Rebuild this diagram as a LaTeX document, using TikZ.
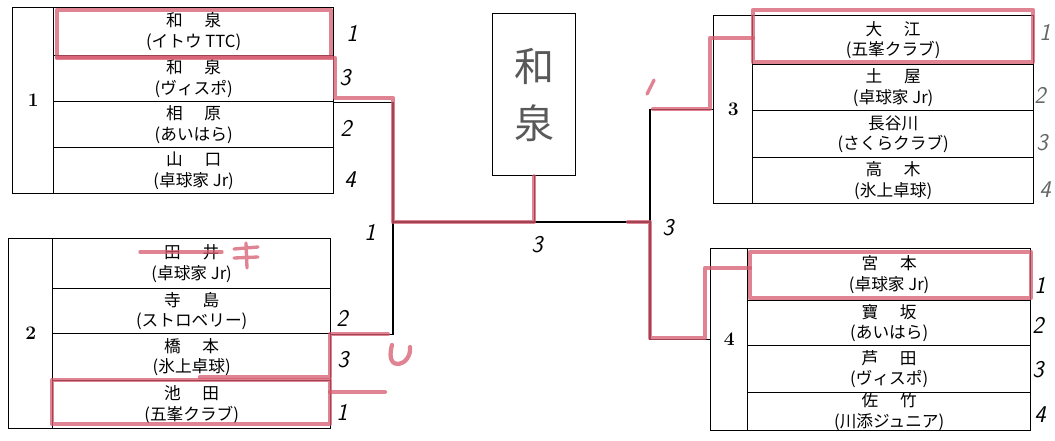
\documentclass[tikz,border=0pt]{standalone}
\usepackage{fontspec}
\newfontfamily\jp{Noto Sans CJK JP}
\usetikzlibrary{positioning}
\definecolor{hlred}{RGB}{214,90,110}
\newcommand{\pname}[2]{#1\hspace{1.3em}#2}
\tikzset{
  grp/.style={draw, line width=1pt, inner sep=0pt, anchor=north west, font=\bfseries\Large},
  entry/.style={draw, line width=1pt, inner sep=0pt, anchor=north west, align=center,
    font=\jp\fontsize{12.5}{15.5}\selectfont},
  link/.style={line width=1pt},
  hl/.style={draw=hlred, line width=3.2pt, opacity=0.75, line cap=round, line join=round},
  hand/.style={font=\sffamily\slshape\fontsize{18}{18}\selectfont, inner sep=0pt}
}
\begin{document}
\begin{tikzpicture}[x=0.75pt, y=-0.75pt]
    \useasboundingbox (0,0) rectangle (1055,440);

    % Group 1
    \node[grp, minimum width=30.75pt, minimum height=139.5pt] (g1) at (12,7) {1};
    \foreach \r/\ya/\yb/\who/\club in {1/7/55/{\pname{和}{泉}}/{(イトウ TTC)}, 2/55/101/{\pname{和}{泉}}/{(ヴィスポ)},
        3/101/147/{\pname{相}{原}}/{(あいはら)}, 4/147/193/{\pname{山}{口}}/{(卓球家 Jr)}}
        \node[entry, minimum width=210pt, minimum height={(\yb-\ya)*0.75pt}] (b1r\r) at (53,\ya) {\who\\\club};

    % Group 2
    \node[grp, minimum width=33pt, minimum height=142.5pt] (g2) at (8,238) {2};
    \foreach \r/\ya/\yb/\who/\club in {1/238/288/{\pname{田}{井}}/{(卓球家 Jr)}, 2/288/333/{\pname{寺}{島}}/{(ストロベリー)},
        3/333/380/{\pname{橋}{本}}/{(氷上卓球)}, 4/380/428/{\pname{池}{田}}/{(五峯クラブ)}}
        \node[entry, minimum width=208.5pt, minimum height={(\yb-\ya)*0.75pt}] (b2r\r) at (52,\ya) {\who\\\club};

    % Group 3
    \node[grp, minimum width=29.25pt, minimum height=141pt] (g3) at (713,15) {3};
    \foreach \r/\ya/\yb/\who/\club in {1/15/64/{\pname{大}{江}}/{(五峯クラブ)}, 2/64/110/{\pname{土}{屋}}/{(卓球家 Jr)},
        3/110/157/{長谷川}/{(さくらクラブ)}, 4/157/203/{\pname{高}{木}}/{(氷上卓球)}}
        \node[entry, minimum width=210.75pt, minimum height={(\yb-\ya)*0.75pt}] (b3r\r) at (752,\ya) {\who\\\club};

    % Group 4
    \node[grp, minimum width=27.75pt, minimum height=136.5pt] (g4) at (710,248) {4};
    \foreach \r/\ya/\yb/\who/\club in {1/248/300/{\pname{宮}{本}}/{(卓球家 Jr)}, 2/300/345/{\pname{寶}{坂}}/{(あいはら)},
        3/345/392/{\pname{芦}{田}}/{(ヴィスポ)}, 4/392/430/{\pname{佐}{竹}}/{(川添ジュニア)}}
        \node[entry, minimum width=212.25pt, minimum height={(\yb-\ya)*0.75pt}] (b4r\r) at (747,\ya) {\who\\\club};

    % Winner box
    \node[draw, line width=1pt, anchor=north west, inner sep=0pt, minimum width=62.25pt, minimum height=121.5pt,
        align=center, font=\jp\fontsize{30}{43}\selectfont, text=black!65] (champ) at (492,13) {和\\泉};

    % Bracket
    \coordinate (L) at (393,222);
    \coordinate (R) at (650,222);
    \draw[link] (b1r2.south east) -| (L) |- (b2r2.south east);
    \draw[link] (L) -- (R);
    \draw[link] (champ.south) -- (champ.south |- L);
    \draw[link] (g3.west) -| (R) |- (g4.west);

    % Red marker
    \draw[hl] (57,10) rectangle (331,57);
    \draw[hl] (57,58) -- (335,58) -- (335,98) -- (393,98) -- (L) -- (champ.south |- L) -- (champ.south);
    \draw[hl] (628,222) -- (R) -- (650,338) -- (705,338) -- (705,268) -- (750,268);
    \draw[hl] (750,252) rectangle (1031,298);
    \draw[hl] (653,109) -- (710,109) -- (710,38) -- (753,38);
    \draw[hl] (753,10) rectangle (1033,62);
    \draw[hl] (52,380) rectangle (330,424);
    \draw[hl] (200,377) -- (330,377) -- (330,334) -- (388,334);
    \draw[hl] (330,392) -- (385,392);
    \draw[hl, line width=2.5pt] (140,252) -- (222,252);
    \draw[hl, line width=2.5pt] (234,249) -- (258,247) (234,258) -- (258,257) (246,243) -- (247,268);
    \draw[hl] (392,345) .. controls (384,374) and (412,366) .. (410,347);
    \draw[hl, line width=2.5pt] (654,80) -- (647,94);

    % Scores
    \foreach \i/\x/\y/\d in {a/352/33/1, b/345/78/3, c/346/128/2, d/350/180/4, e/370/232/1,
        f/342/318/2, g/343/360/3, h/342/412/1, i/537/245/3, j/668/228/3,
        o/1040/285/1, p/1038/325/2, q/1038/370/3, r/1040/415/4}
        \node[hand] (h\i) at (\x,\y) {\d};
    \foreach \i/\x/\y/\d in {k/1045/32/1, l/1040/95/2, m/1042/143/3, n/1045/190/4}
        \node[hand, text=black!60] (h\i) at (\x,\y) {\d};
\end{tikzpicture}
\end{document}
